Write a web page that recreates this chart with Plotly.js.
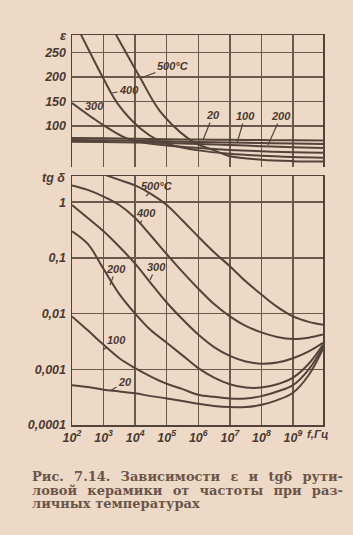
<!DOCTYPE html>
<html><head><meta charset="utf-8">
<script src="https://cdn.plot.ly/plotly-3.0.1.min.js"></script>
<style>
html,body{margin:0;padding:0;background:#eed9c6;}
#wrap{position:relative;width:353px;height:535px;overflow:hidden;}
#chart{width:353px;height:535px;}
#caption{position:absolute;left:32px;top:470px;width:311px;font-family:'DejaVu Serif',serif;font-weight:bold;
  font-size:13px;line-height:13.6px;color:#6a5548;}
#caption div{text-align:justify;text-align-last:justify;white-space:nowrap;}
#caption div.last{text-align:left;text-align-last:left;}
</style>
</head><body><div id="wrap"><div id="chart"></div>
<div id="caption"><div>Рис. 7.14. Зависимости ε и tgδ рути-</div><div>ловой керамики от частоты при раз-</div><div class="last">личных температурах</div></div>
</div>
<script>
// ---------- data ----------
// frequency grid (Hz) for tg delta curves
const freqHz = [1e2,3.16e2,1e3,3.16e3,1e4,3.16e4,1e5,3.16e5,1e6,3.16e6,1e7,3.16e7,1e8,3.16e8,1e9,3.16e9,8.9e9];
const freq500 = [1e3,3.16e3,1e4,3.16e4,1e5,3.16e5,1e6,3.16e6,1e7,3.16e7,1e8,3.16e8,1e9,3.16e9,8.9e9];
const tg500 = [3.16,2.51,2.0,1.41,0.89,0.47,0.24,0.126,0.071,0.038,0.022,0.0132,0.0089,0.0071,0.0063];
const tg400 = [2.0,1.66,1.26,0.89,0.52,0.25,0.117,0.056,0.028,0.0148,0.0089,0.006,0.0046,0.0038,0.0035,0.0037,0.0042];
const tg300 = [0.89,0.52,0.30,0.158,0.079,0.035,0.0158,0.0079,0.0042,0.0025,0.00174,0.00138,0.00126,0.00132,0.00158,0.0021,0.003];
const tg200 = [0.30,0.178,0.063,0.0224,0.01,0.005,0.003,0.00178,0.00105,0.00071,0.00054,0.00047,0.00047,0.00054,0.00071,0.00126,0.00275];
const tg100 = [0.0089,0.005,0.00275,0.00158,0.00105,0.00074,0.00055,0.00044,0.00035,0.00032,0.0003,0.0003,0.00033,0.0004,0.00052,0.001,0.0025];
const tg20  = [0.00052,0.00048,0.00043,0.0004,0.00037,0.00033,0.0003,0.00027,0.00024,0.00022,0.00021,0.00021,0.00023,0.00028,0.00038,0.00079,0.00234];

// permittivity curves
const epsFreqLow = [1e2,1e3,1e4,1e5,1e6,1e7,1e8,1e9,8.9e9];
const eps20  = [75.5,75,74,73,72,71.5,71,70.5,70];
const eps100 = [71,70.5,69.5,68.5,67,66,65,64,63];
const eps200 = [67.5,67,66,65,63,61,58.5,56.5,55];
const epsFreq300 = [1e2,4.6e2,1.07e3,5.2e3,2.2e4,1e5,1e6,1e7,1e8,1e9,8.9e9];
const eps300 = [147,116,100,75,65,60,55,51,48,46,45];
const epsFreq400 = [1.5e2,1.95e2,9.5e2,2.9e3,1.4e4,6e4,1.6e5,1e6,1e7,1e8,1e9,8.9e9];
const eps400 = [300,286,199,144,96,69,60,50,43,39,36.5,35];
const epsFreq500 = [2e3,2.5e3,1.4e4,6e4,4.6e5,1e6,3.16e6,1e7,1e8,1e9,8.9e9];
const eps500 = [297,286,200,131,75,62,50,38,31,28,27];

const xTickVals = [1e2,1e3,1e4,1e5,1e6,1e7,1e8,1e9];
const xTickText = ['10<sup>2</sup>','10<sup>3</sup>','10<sup>4</sup>','10<sup>5</sup>','10<sup>6</sup>','10<sup>7</sup>','10<sup>8</sup>','10<sup>9</sup>'];
const epsTickVals = [100,150,200,250];
const epsTickText = ['100','150','200','250'];
const tgTickVals = [1,0.1,0.01,0.001,0.0001];
const tgTickText = ['1','0,1','0,01','0,001','0,0001'];

// ---------- style ----------
const LINE = '#54433a', GRID = '#6a5a4e', TXT = '#4a3a31', BG = '#eed9c6';
const tfont = {family:'Liberation Sans, Arial, sans-serif', size:12.5, color:TXT, weight:'bold', style:'italic'};
function tr(x,y,xa,ya){return {x:x,y:y,xaxis:xa,yaxis:ya,type:'scatter',mode:'lines',
  line:{color:LINE,width:2,shape:'spline',smoothing:1},hoverinfo:'skip',showlegend:false};}

const data = [
  tr(epsFreqLow,eps20,'x','y'), tr(epsFreqLow,eps100,'x','y'), tr(epsFreqLow,eps200,'x','y'),
  tr(epsFreq300,eps300,'x','y'), tr(epsFreq400,eps400,'x','y'), tr(epsFreq500,eps500,'x','y'),
  tr(freq500,tg500,'x2','y2'), tr(freqHz,tg400,'x2','y2'), tr(freqHz,tg300,'x2','y2'),
  tr(freqHz,tg200,'x2','y2'), tr(freqHz,tg100,'x2','y2'), tr(freqHz,tg20,'x2','y2')
];

// pixel helpers for label placement
const L=72, R=30, T=35, B=110, W=353, H=535;
const PW=W-L-R, PH=H-T-B;
const px = X => (X-L)/PW, py = Y => (H-B-Y)/PH;
function lab(tipX,tipY,txX,txY,text){
  return {xref:'paper',yref:'paper',x:px(tipX),y:py(tipY),ax:txX-tipX,ay:txY-tipY,text:text,
    showarrow:true,arrowhead:0,arrowwidth:1.2,arrowcolor:LINE,standoff:0,
    font:{family:'Liberation Sans, Arial, sans-serif',size:11,color:TXT,weight:'bold',style:'italic'}};}
function txt(X,Y,text,size,xanchor){
  return {xref:'paper',yref:'paper',x:px(X),y:py(Y),text:text,showarrow:false,
    xanchor:xanchor||'center',yanchor:'middle',
    font:{family:'Liberation Sans, Arial, sans-serif',size:size,color:TXT,weight:'bold',style:'italic'}};}

const annotations = [
  lab(141,78,173,66,'500°C'), lab(112,93,129,90,'400'), lab(83,110,94,106,'300'),
  lab(203,140,213,115,'20'), lab(237,143,245,116,'100'), lab(268,145,281,116,'200'),
  lab(146,196,157,186,'500°C'), lab(140,224,146,213,'400'), lab(150,280,156,267,'300'),
  lab(110,285,116,269,'200'), lab(103,350,116,340,'100'), lab(110,391,125,382,'20'),
  txt(63,35,'ε',13), txt(53,178,'tg δ',12.5), txt(305,434,'f,Гц',11.5,'left')
];

const xcommon = {type:'log',range:[2,9.95],tickmode:'array',tickvals:xTickVals,ticktext:xTickText,
  showgrid:true,gridcolor:GRID,gridwidth:1.5,zeroline:false,ticks:'',
  linecolor:LINE,linewidth:1.5,tickfont:tfont};
const layout = {
  width:W,height:H,margin:{l:L,r:R,t:T,b:B},paper_bgcolor:BG,plot_bgcolor:BG,showlegend:false,
  xaxis:Object.assign({},xcommon,{anchor:'y',side:'top',showticklabels:false,showline:true}),
  yaxis:{domain:[(H-B-167)/PH,1],range:[16,286],tickmode:'array',tickvals:epsTickVals,ticktext:epsTickText,
    showgrid:true,gridcolor:GRID,gridwidth:1.5,zeroline:false,ticks:'',showline:true,mirror:true,
    linecolor:LINE,linewidth:1.5,tickfont:tfont,ticklabelstandoff:2},
  xaxis2:Object.assign({},xcommon,{anchor:'y2',showline:true,mirror:true,ticklabelstandoff:0}),
  yaxis2:{domain:[0,(H-B-176)/PH],type:'log',range:[-4,0.47],tickmode:'array',tickvals:tgTickVals,ticktext:tgTickText,
    showgrid:true,gridcolor:GRID,gridwidth:1.5,zeroline:false,ticks:'',showline:true,mirror:true,
    linecolor:LINE,linewidth:1.5,tickfont:tfont,ticklabelstandoff:2},
  annotations:annotations
};
Plotly.newPlot('chart',data,layout,{staticPlot:true,displayModeBar:false});
</script></body></html>
